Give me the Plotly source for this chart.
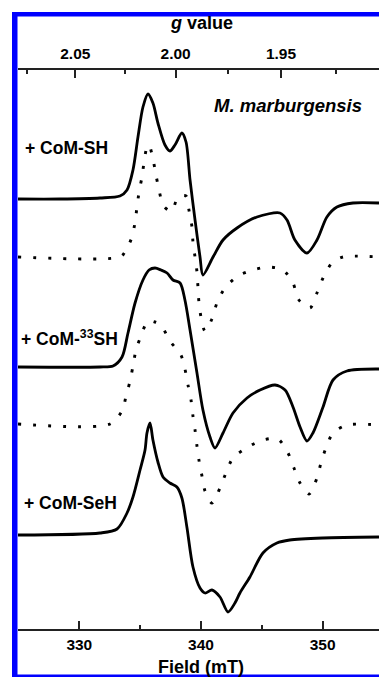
import plotly.graph_objects as go

# ---------------- data ----------------
# Field in mT, intensity in arbitrary units (derivative EPR)
field_sh = [324.96, 328.41, 331.70, 333.34, 333.92, 334.41, 334.82, 335.23, 335.64, 336.05,
            336.46, 337.04, 337.45, 337.86, 338.43, 338.77, 339.10, 339.51, 339.92, 340.16,
            340.99, 341.81, 342.96, 344.60, 346.49, 347.07, 347.72, 348.71, 349.53, 350.35,
            351.17, 352.49, 354.63]
int_sh = [0, 0, 1, 3, 9, 29, 62, 92, 105, 96,
          76, 54, 48, 54, 66, 57, 19, -21, -58, -76,
          -58, -41, -29, -18, -14, -21, -41, -54, -41, -18,
          -8, -4, -4]

field_sh_sim = [324.96, 333.34, 333.75, 334.33, 334.58, 334.74, 334.91, 335.15, 335.32, 335.56,
                335.73, 336.05, 336.30, 336.55, 336.88, 337.29, 337.62, 338.11, 338.77, 339.01,
                339.26, 339.34, 339.51, 339.67, 339.75, 339.83, 340.00, 340.33, 340.90, 341.31,
                341.97, 343.04, 344.27, 345.50, 346.74, 347.56, 348.05, 348.96, 349.53, 350.03,
                350.76, 351.67, 354.63]
int_sh_sim = [0, 0, 5, 20, 35, 50, 65, 80, 95, 110,
              112, 98, 82, 67, 52, 47, 46, 60, 61, 47,
              30, 15, 0, -15, -30, -45, -60, -74, -62, -46,
              -31, -19, -13, -10, -13, -26, -43, -51, -36, -21,
              -6, 0, 0]

field_33sh = [324.96, 331.70, 332.77, 333.51, 334.00, 334.58, 335.23, 335.73, 336.22, 336.71,
              337.21, 337.70, 338.28, 338.68, 339.10, 339.67, 340.16, 340.74, 341.15, 341.81,
              342.63, 343.78, 344.85, 346.08, 346.91, 347.56, 348.14, 348.71, 349.20, 350.03,
              350.85, 352.00, 354.63]
int_33sh = [0, 0, 1, 10, 34, 64, 87, 97, 99, 97,
            94, 87, 84, 67, 37, -6, -43, -70, -81, -66,
            -46, -31, -23, -18, -23, -40, -60, -74, -66, -40,
            -13, -4, -2]

field_33sh_sim = [324.96, 332.52, 333.51, 333.84, 334.17, 334.41, 334.66, 335.07, 335.64, 336.22,
                  336.71, 337.45, 338.35, 338.68, 338.93, 339.18, 339.34, 339.51, 339.67, 339.83,
                  340.08, 340.33, 340.90, 341.56, 342.05, 342.63, 343.86, 345.09, 346.32, 347.15,
                  347.64, 348.14, 348.88, 349.53, 349.86, 350.27, 350.85, 352.00, 354.63]
int_33sh_sim = [0, 0, 13, 28, 43, 58, 74, 88, 103, 102,
                99, 83, 69, 55, 39, 24, 8, -6, -22, -36,
                -52, -67, -79, -64, -49, -34, -23, -16, -15, -29,
                -44, -59, -70, -54, -39, -24, -9, -1, -1]

field_seh = [324.96, 331.70, 333.10, 333.92, 334.41, 334.99, 335.40, 335.56, 335.81, 336.05,
             336.46, 336.88, 337.45, 338.02, 338.43, 338.84, 339.34, 339.92, 340.33, 340.90,
             341.56, 342.22, 342.79, 343.20, 344.02, 345.09, 346.24, 347.30, 350.02, 354.63]
int_seh = [-1, 1, 5, 21, 37, 64, 84, 101, 111, 94,
           72, 57, 51, 47, 36, 7, -33, -54, -59, -56,
           -63, -78, -69, -59, -43, -19, -9, -6, -4, -3]

offsets = [430, 372, 262, 205, 95]

labels = ["+ CoM-SH", "+ CoM-<sup>33</sup>SH", "+ CoM-SeH"]
species = "<i>M. marburgensis</i>"

field_ticks = [330, 340, 350]
field_minor = [335, 345]
g_major = [2.05, 2.00, 1.95]
g_major_text = ["2.05", "2.00", "1.95"]
g_minor = [2.075, 2.025, 1.975, 1.925]
mw_freq_ghz = 9.459

x_range = [324.96, 354.63]

# ---------------- conversions ----------------
H = 6.62607015e-34
MU_B = 9.2740100783e-24


def g_to_field(g):
    return H * mw_freq_ghz * 1e9 / (MU_B * g) * 1000.0


FONT = "Liberation Sans, Arial, sans-serif"

fig = go.Figure()
series = [
    (field_sh, int_sh, "solid"),
    (field_sh_sim, int_sh_sim, "dot"),
    (field_33sh, int_33sh, "solid"),
    (field_33sh_sim, int_33sh_sim, "dot"),
    (field_seh, int_seh, "solid"),
]
for (fx, iy, style), off in zip(series, offsets):
    if style == "solid":
        line = dict(color="black", width=2.8, shape="spline", smoothing=0.8)
    else:
        line = dict(color="black", width=2.9, dash="3px,12px", shape="spline", smoothing=0.8)
    fig.add_trace(go.Scatter(x=fx, y=[off + v for v in iy], mode="lines", line=line,
                             showlegend=False, hoverinfo="skip"))

# invisible trace to carry the top axis
fig.add_trace(go.Scatter(x=[x_range[0]], y=[0], xaxis="x2", mode="markers",
                         marker=dict(opacity=0), showlegend=False, hoverinfo="skip"))

axis_common = dict(showline=True, linecolor="#222", linewidth=2, ticks="inside",
                   tickcolor="#222", tickwidth=1.5, ticklen=8, showgrid=False, zeroline=False,
                   tickfont=dict(family=FONT, size=15.5, color="black", weight="bold"),
                   range=x_range, fixedrange=True)

fig.update_layout(
    width=379, height=677,
    margin=dict(l=18, r=0, t=70, b=48),
    paper_bgcolor="white", plot_bgcolor="white",
    xaxis=dict(**axis_common, tickmode="array", tickvals=field_ticks,
               ticktext=[str(v) for v in field_ticks],
               minor=dict(tickmode="array", tickvals=field_minor, ticks="inside",
                          ticklen=4, tickwidth=1.5, tickcolor="#222")),
    xaxis2=dict(**axis_common, overlaying="x", side="top", anchor="y", tickmode="array",
                tickvals=[g_to_field(g) for g in g_major], ticktext=g_major_text,
                ticklabelstandoff=3,
                minor=dict(tickmode="array", tickvals=[g_to_field(g) for g in g_minor],
                           ticks="inside", ticklen=4, tickwidth=1.5, tickcolor="#222")),
    yaxis=dict(range=[0, 559], visible=False, fixedrange=True),
)

W = 361.0
Hh = 559.0


def px(xp):
    return (xp - 18) / W


def py(yp):
    return (629 - yp) / Hh


lab_font = dict(family=FONT, size=17.5, color="black", weight="bold")
ann = [
    dict(text=labels[0], x=px(23), y=py(148)),
    dict(text=labels[1], x=px(19), y=py(338)),
    dict(text=labels[2], x=px(22), y=py(503)),
]
for a in ann:
    fig.add_annotation(xref="paper", yref="paper", xanchor="left", yanchor="middle",
                       showarrow=False, font=lab_font, **a)
fig.add_annotation(text=species, xref="paper", yref="paper", x=px(212), y=py(106),
                   xanchor="left", yanchor="middle", showarrow=False,
                   font=dict(family=FONT, size=18.5, color="black", weight="bold"))
fig.add_annotation(text="<i>g</i> value", xref="paper", yref="paper", x=px(201), y=py(23),
                   xanchor="center", yanchor="middle", showarrow=False,
                   font=dict(family=FONT, size=18, color="black", weight="bold"))
fig.add_annotation(text="Field (mT)", xref="paper", yref="paper", x=px(201), y=py(667),
                   xanchor="center", yanchor="middle", showarrow=False,
                   font=dict(family=FONT, size=18, color="black", weight="bold"))

# blue frame of the reference picture
blue = "#0000ff"
fig.add_shape(type="rect", xref="paper", yref="paper", x0=px(12), x1=px(17.5), y0=py(677),
              y1=py(12), fillcolor=blue, line_width=0, layer="above")
fig.add_shape(type="rect", xref="paper", yref="paper", x0=px(12), x1=px(379), y0=py(16.5),
              y1=py(12), fillcolor=blue, line_width=0, layer="above")
fig.add_shape(type="rect", xref="paper", yref="paper", x0=px(12), x1=px(379), y0=py(677),
              y1=py(674.5), fillcolor=blue, line_width=0, layer="above")

fig.write_html("out.html", config={"displayModeBar": False},
               post_script="document.body.style.margin='0px';document.body.style.overflow='hidden';")
